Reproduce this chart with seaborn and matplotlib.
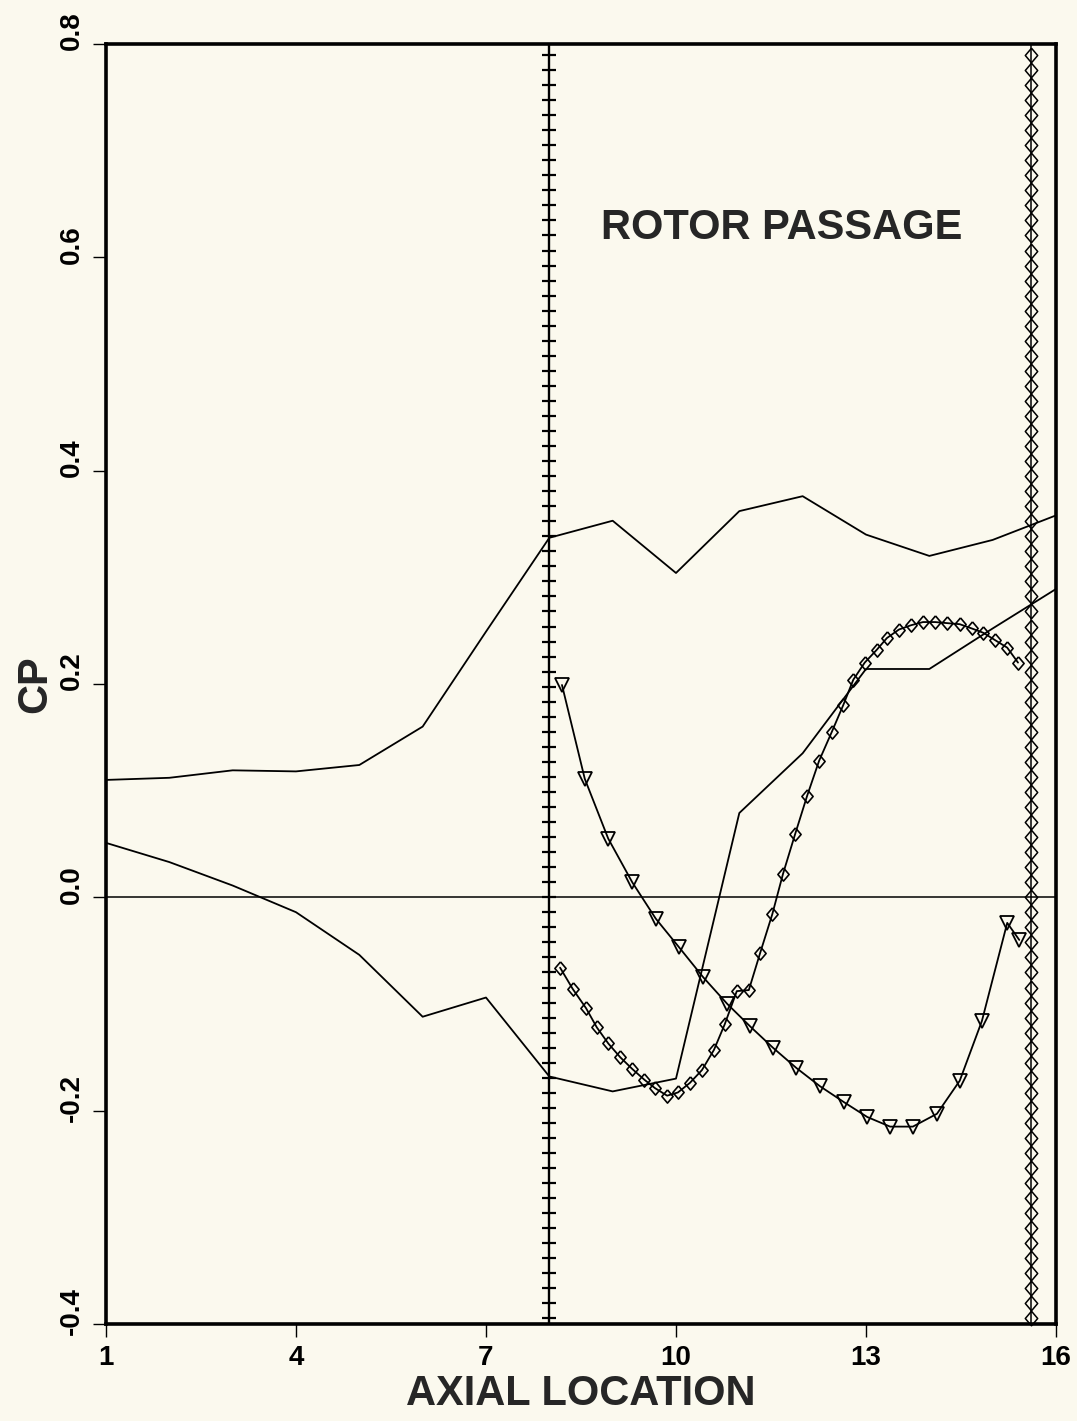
import matplotlib
matplotlib.use("Agg")
import matplotlib.pyplot as plt
import matplotlib.transforms as mtransforms
from matplotlib.ticker import MultipleLocator
import seaborn as sns

# solid curves, one value per axial station
stations = [1, 2, 3, 4, 5, 6, 7, 8, 9, 10, 11, 12, 13, 14, 15, 16]
cp_upper = [0.110, 0.112, 0.119, 0.118, 0.124, 0.160, 0.249, 0.337,
            0.353, 0.304, 0.362, 0.376, 0.340, 0.320, 0.335, 0.358]
cp_lower = [0.051, 0.033, 0.011, -0.014, -0.054, -0.112, -0.094, -0.168,
            -0.182, -0.170, 0.079, 0.135, 0.214, 0.214, 0.252, 0.289]

# triangle curve inside the rotor passage
tri_x = [8.20, 8.56, 8.93, 9.31, 9.68, 10.05, 10.43, 10.81, 11.17, 11.53, 11.90,
         12.27, 12.65, 13.02, 13.38, 13.74, 14.12, 14.48, 14.83, 15.23, 15.42]
tri_cp = [0.199, 0.111, 0.055, 0.014, -0.020, -0.047, -0.075, -0.100, -0.121, -0.141, -0.160,
          -0.177, -0.192, -0.206, -0.215, -0.215, -0.203, -0.172, -0.116, -0.024, -0.040]

# diamond curve inside the rotor passage
dia_x = [8.17, 8.37, 8.58, 8.75, 8.93, 9.12, 9.31, 9.50, 9.67, 9.86, 10.03, 10.22,
         10.41, 10.60, 10.77, 10.96, 11.15, 11.33, 11.52, 11.69, 11.88, 12.07, 12.26,
         12.46, 12.64, 12.80, 12.98, 13.17, 13.33, 13.52, 13.71, 13.90, 14.09, 14.28,
         14.48, 14.67, 14.85, 15.04, 15.23, 15.40]
dia_cp = [-0.066, -0.086, -0.104, -0.122, -0.137, -0.150, -0.161, -0.171, -0.179, -0.186,
          -0.183, -0.174, -0.162, -0.143, -0.119, -0.088, -0.087, -0.052, -0.016, 0.022,
          0.059, 0.095, 0.128, 0.155, 0.180, 0.204, 0.220, 0.232, 0.243, 0.251, 0.255,
          0.258, 0.258, 0.257, 0.256, 0.252, 0.248, 0.241, 0.234, 0.220]

le_x = 8.0          # rotor leading edge
te_x = 15.6         # rotor trailing edge
edge_step = 0.0141  # spacing of the grid marks along the edges

x_ticks = [1, 4, 7, 10, 13, 16]
y_ticks = [-0.4, -0.2, 0.0, 0.2, 0.4, 0.6, 0.8]

sns.set_style("ticks")
plt.rcParams["font.family"] = ["Liberation Sans", "DejaVu Sans"]
plt.rcParams["font.weight"] = "bold"
plt.rcParams["axes.unicode_minus"] = False

paper = "#fbf9ee"
diamond = [(0, 1), (0.85, 0), (0, -1), (-0.85, 0), (0, 1)]

fig = plt.figure(figsize=(10.77, 14.21), dpi=100, facecolor=paper)
ax = fig.add_axes([0.0984, 0.0683, 0.8821, 0.9008])
ax.set_facecolor(paper)

line_kw = dict(color="k", linewidth=1.3, sort=False, estimator=None, ax=ax)
sns.lineplot(x=stations, y=cp_upper, **line_kw)
sns.lineplot(x=stations, y=cp_lower, **line_kw)
sns.lineplot(x=tri_x, y=tri_cp, marker="v", markersize=10.5, markerfacecolor="none",
             markeredgecolor="k", markeredgewidth=1.3, **line_kw)
sns.lineplot(x=dia_x, y=dia_cp, marker=diamond, markersize=9.5, markerfacecolor="none",
             markeredgecolor="k", markeredgewidth=1.2, **line_kw)

ax.axhline(0, color="k", linewidth=1.1)
ax.axvline(le_x, color="k", linewidth=1.7)
ax.axvline(te_x, color="k", linewidth=1.1)

ax.text(11.67, 0.627, "ROTOR PASSAGE", ha="center", va="center",
        fontsize=30, fontweight="bold")

ax.set_xlim(1, 16)
ax.set_ylim(-0.4, 0.8)
ax.set_xticks(x_ticks)
ax.set_yticks(y_ticks)
ax.set_xticklabels([str(v) for v in x_ticks])
ax.set_yticklabels([f"{v:.1f}" for v in y_ticks])

for s in ax.spines.values():
    s.set_visible(True)
    s.set_linewidth(2.6)
    s.set_color("k")

ax.tick_params(direction="out", length=9.5, width=1.0, labelsize=20, pad=6, colors="k")
shift = mtransforms.ScaledTranslation(0, 0.13, fig.dpi_scale_trans)
for lab in ax.get_yticklabels():
    lab.set_rotation(90)
    lab.set_va("center")
    lab.set_ha("right")
    lab.set_transform(lab.get_transform() + shift)

ax.set_xlabel("AXIAL LOCATION", fontsize=30, fontweight="bold", labelpad=2)
ax.set_ylabel("CP", fontsize=30, fontweight="bold", labelpad=2)

# leading edge: "+" grid marks along the vertical line
le_axis = ax.secondary_yaxis(le_x, transform=ax.transData)
le_axis.yaxis.set_major_locator(MultipleLocator(edge_step))
le_axis.tick_params(axis="y", direction="inout", length=10.5, width=1.6,
                    left=True, right=False, labelleft=False, labelright=False, colors="k")
for s in le_axis.spines.values():
    s.set_visible(False)

# trailing edge: diamond grid marks along the vertical line
te_axis = ax.secondary_yaxis(te_x, transform=ax.transData)
te_axis.yaxis.set_major_locator(MultipleLocator(edge_step))
te_axis.tick_params(axis="y", direction="inout", length=10, width=1.1,
                    left=True, right=False, labelleft=False, labelright=False, colors="k")
for s in te_axis.spines.values():
    s.set_visible(False)

fig.canvas.draw()
for t in te_axis.yaxis.get_major_ticks():
    t.tick1line.set_marker(diamond)
    t.tick1line.set_markersize(10.5)
    t.tick1line.set_markerfacecolor("none")
    t.tick1line.set_markeredgecolor("k")
    t.tick1line.set_markeredgewidth(1.1)

fig.savefig("out.png", dpi=100, facecolor=paper)
